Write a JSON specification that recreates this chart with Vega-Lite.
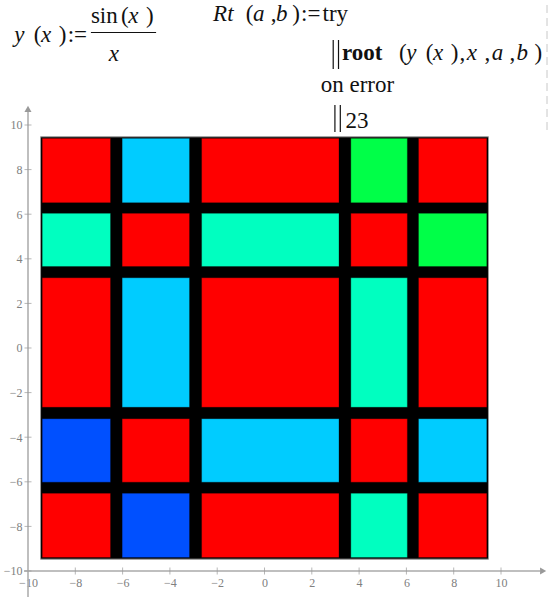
{
  "$schema": "https://vega.github.io/schema/vega-lite/v6.json",
  "width": 559,
  "height": 597,
  "autosize": {"type": "none"},
  "padding": 0,
  "background": "white",
  "config": {"view": {"stroke": null}},
  "datasets": {
    "frame": [{"x": -9.47, "x2": 9.47, "y": -9.47, "y2": 9.47}],
    "cells": [
      {"x": -9.40, "x2": -6.51, "y": 6.51, "y2": 9.40, "root": 23},
      {"x": -6.02, "x2": -3.17, "y": 6.51, "y2": 9.40, "root": -3.1416},
      {"x": -2.66, "x2": 3.15, "y": 6.51, "y2": 9.40, "root": 23},
      {"x": 3.65, "x2": 6.04, "y": 6.51, "y2": 9.40, "root": 6.2832},
      {"x": 6.51, "x2": 9.40, "y": 6.51, "y2": 9.40, "root": 23},
      {"x": -9.40, "x2": -6.51, "y": 3.65, "y2": 6.04, "root": 3.1416},
      {"x": -6.02, "x2": -3.17, "y": 3.65, "y2": 6.04, "root": 23},
      {"x": -2.66, "x2": 3.15, "y": 3.65, "y2": 6.04, "root": 3.1416},
      {"x": 3.65, "x2": 6.04, "y": 3.65, "y2": 6.04, "root": 23},
      {"x": 6.51, "x2": 9.40, "y": 3.65, "y2": 6.04, "root": 6.2832},
      {"x": -9.40, "x2": -6.51, "y": -2.66, "y2": 3.15, "root": 23},
      {"x": -6.02, "x2": -3.17, "y": -2.66, "y2": 3.15, "root": -3.1416},
      {"x": -2.66, "x2": 3.15, "y": -2.66, "y2": 3.15, "root": 23},
      {"x": 3.65, "x2": 6.04, "y": -2.66, "y2": 3.15, "root": 3.1416},
      {"x": 6.51, "x2": 9.40, "y": -2.66, "y2": 3.15, "root": 23},
      {"x": -9.40, "x2": -6.51, "y": -6.02, "y2": -3.17, "root": -6.2832},
      {"x": -6.02, "x2": -3.17, "y": -6.02, "y2": -3.17, "root": 23},
      {"x": -2.66, "x2": 3.15, "y": -6.02, "y2": -3.17, "root": -3.1416},
      {"x": 3.65, "x2": 6.04, "y": -6.02, "y2": -3.17, "root": 23},
      {"x": 6.51, "x2": 9.40, "y": -6.02, "y2": -3.17, "root": -3.1416},
      {"x": -9.40, "x2": -6.51, "y": -9.40, "y2": -6.51, "root": 23},
      {"x": -6.02, "x2": -3.17, "y": -9.40, "y2": -6.51, "root": -6.2832},
      {"x": -2.66, "x2": 3.15, "y": -9.40, "y2": -6.51, "root": 23},
      {"x": 3.65, "x2": 6.04, "y": -9.40, "y2": -6.51, "root": 3.1416},
      {"x": 6.51, "x2": 9.40, "y": -9.40, "y2": -6.51, "root": 23}
    ],
    "axisLines": [
      {"x": -10.17, "x2": 11.65, "y": -10, "y2": -10},
      {"x": -10, "x2": -10, "y": -11.17, "y2": 10.63}
    ],
    "axisTicks": [
      {"axis": "x", "x": -8, "y": -10}, {"axis": "x", "x": -6, "y": -10},
      {"axis": "x", "x": -4, "y": -10}, {"axis": "x", "x": -2, "y": -10},
      {"axis": "x", "x": 0, "y": -10}, {"axis": "x", "x": 2, "y": -10},
      {"axis": "x", "x": 4, "y": -10}, {"axis": "x", "x": 6, "y": -10},
      {"axis": "x", "x": 8, "y": -10}, {"axis": "x", "x": 10, "y": -10},
      {"axis": "y", "x": -10, "y": -10}, {"axis": "y", "x": -10, "y": -8},
      {"axis": "y", "x": -10, "y": -6}, {"axis": "y", "x": -10, "y": -4},
      {"axis": "y", "x": -10, "y": -2}, {"axis": "y", "x": -10, "y": 0},
      {"axis": "y", "x": -10, "y": 2}, {"axis": "y", "x": -10, "y": 4},
      {"axis": "y", "x": -10, "y": 6}, {"axis": "y", "x": -10, "y": 8},
      {"axis": "y", "x": -10, "y": 10}
    ],
    "arrowX": [{"x": 11.78, "y": -10}],
    "arrowY": [{"x": -10, "y": 10.72}],
    "formula": [
      {"t": "y", "x": -10.579, "y": 13.722, "s": "i"},
      {"t": "(", "x": -9.755, "y": 13.722, "s": "r"},
      {"t": "x", "x": -9.450, "y": 13.722, "s": "i"},
      {"t": ")", "x": -8.698, "y": 13.722, "s": "r"},
      {"t": ":=", "x": -8.321, "y": 13.722, "s": "r"},
      {"t": "sin", "x": -7.340, "y": 14.574, "s": "r"},
      {"t": "(", "x": -6.063, "y": 14.574, "s": "r"},
      {"t": "x", "x": -5.759, "y": 14.574, "s": "i"},
      {"t": ")", "x": -5.006, "y": 14.574, "s": "r"},
      {"t": "x", "x": -6.588, "y": 12.870, "s": "i"},
      {"t": "Rt", "x": -2.173, "y": 14.664, "s": "i"},
      {"t": "(", "x": -0.791, "y": 14.664, "s": "r"},
      {"t": "a", "x": -0.486, "y": 14.664, "s": "i"},
      {"t": ",", "x": 0.266, "y": 14.664, "s": "r"},
      {"t": "b", "x": 0.490, "y": 14.664, "s": "i"},
      {"t": ")", "x": 1.171, "y": 14.664, "s": "r"},
      {"t": ":=", "x": 1.548, "y": 14.664, "s": "r"},
      {"t": "try", "x": 2.452, "y": 14.664, "s": "r"},
      {"t": "root", "x": 3.277, "y": 12.915, "s": "b"},
      {"t": "(", "x": 5.691, "y": 12.915, "s": "r"},
      {"t": "y", "x": 5.991, "y": 12.915, "s": "i"},
      {"t": "(", "x": 6.820, "y": 12.915, "s": "r"},
      {"t": "x", "x": 7.121, "y": 12.915, "s": "i"},
      {"t": ")", "x": 7.873, "y": 12.915, "s": "r"},
      {"t": ",", "x": 8.250, "y": 12.915, "s": "r"},
      {"t": "x", "x": 8.554, "y": 12.915, "s": "i"},
      {"t": ",", "x": 9.307, "y": 12.915, "s": "r"},
      {"t": "a", "x": 9.607, "y": 12.915, "s": "i"},
      {"t": ",", "x": 10.359, "y": 12.915, "s": "r"},
      {"t": "b", "x": 10.660, "y": 12.915, "s": "i"},
      {"t": ")", "x": 11.412, "y": 12.915, "s": "r"},
      {"t": "on error", "x": 2.376, "y": 11.480, "s": "r"},
      {"t": "23", "x": 3.429, "y": 9.865, "s": "r"}
    ],
    "formulaLines": [
      {"x": -7.340, "x2": -4.584, "y": 14.148, "y2": 14.148},
      {"x": 2.905, "x2": 2.905, "y": 13.812, "y2": 12.511},
      {"x": 3.129, "x2": 3.129, "y": 13.812, "y2": 12.511},
      {"x": 2.977, "x2": 2.977, "y": 10.897, "y2": 9.686},
      {"x": 3.205, "x2": 3.205, "y": 10.897, "y2": 9.686}
    ],
    "regionEdge": [{"x": 11.945, "x2": 11.945, "y": 15.381, "y2": 9.776}]
  },
  "encoding": {
    "x": {
      "field": "x",
      "type": "quantitative",
      "scale": {"domain": [-11.184, 12.452], "nice": false, "zero": false},
      "axis": {
        "title": null,
        "orient": "bottom",
        "offset": -26,
        "values": [-10, -8, -6, -4, -2, 0, 2, 4, 6, 8, 10],
        "domain": false,
        "ticks": false,
        "tickSize": 0,
        "grid": false,
        "labelFont": "Liberation Serif",
        "labelFontSize": 12,
        "labelColor": "#808080",
        "labelPadding": 6,
        "labelOverlap": false,
        "labelFlush": false
      }
    },
    "y": {
      "field": "y",
      "type": "quantitative",
      "scale": {"domain": [-11.166, 15.605], "nice": false, "zero": false},
      "axis": {
        "title": null,
        "orient": "left",
        "offset": -28,
        "values": [-10, -8, -6, -4, -2, 0, 2, 4, 6, 8, 10],
        "domain": false,
        "ticks": false,
        "tickSize": 0,
        "grid": false,
        "labelFont": "Liberation Serif",
        "labelFontSize": 12,
        "labelColor": "#808080",
        "labelPadding": 6,
        "labelOverlap": false,
        "labelFlush": false
      }
    }
  },
  "layer": [
    {
      "data": {"name": "frame"},
      "mark": {"type": "rect", "fill": "#000000", "stroke": "#9a9a9a", "strokeWidth": 1},
      "encoding": {"x2": {"field": "x2"}, "y2": {"field": "y2"}}
    },
    {
      "data": {"name": "cells"},
      "mark": {"type": "rect", "stroke": "#000000", "strokeOpacity": 0.3, "strokeWidth": 1, "fillOpacity": 1},
      "encoding": {
        "x2": {"field": "x2"},
        "y2": {"field": "y2"},
        "fill": {
          "field": "root",
          "type": "ordinal",
          "scale": {
            "domain": [-6.2832, -3.1416, 3.1416, 6.2832, 23],
            "range": ["#0050ff", "#00ccff", "#00ffc0", "#00ff48", "#ff0000"]
          },
          "legend": null
        }
      }
    },
    {
      "data": {"name": "axisLines"},
      "mark": {"type": "rule", "color": "#aaaaaa", "strokeWidth": 1.5},
      "encoding": {"x2": {"field": "x2"}, "y2": {"field": "y2"}}
    },
    {
      "data": {"name": "axisTicks"},
      "transform": [{"filter": "datum.axis == 'x'"}],
      "mark": {"type": "tick", "orient": "vertical", "size": 7, "thickness": 1, "color": "#999999"}
    },
    {
      "data": {"name": "axisTicks"},
      "transform": [{"filter": "datum.axis == 'y'"}],
      "mark": {"type": "tick", "orient": "horizontal", "size": 7, "thickness": 1, "color": "#999999"}
    },
    {
      "data": {"name": "arrowX"},
      "mark": {"type": "point", "shape": "triangle-right", "filled": true, "size": 50, "color": "#999999", "opacity": 1}
    },
    {
      "data": {"name": "arrowY"},
      "mark": {"type": "point", "shape": "triangle-up", "filled": true, "size": 50, "color": "#999999", "opacity": 1}
    },
    {
      "data": {"name": "formula"},
      "transform": [{"filter": "datum.s == 'i'"}],
      "mark": {"type": "text", "align": "left", "baseline": "alphabetic", "font": "Liberation Serif", "fontSize": 23, "fontStyle": "italic", "color": "#111111"},
      "encoding": {"text": {"field": "t"}}
    },
    {
      "data": {"name": "formula"},
      "transform": [{"filter": "datum.s == 'r'"}],
      "mark": {"type": "text", "align": "left", "baseline": "alphabetic", "font": "Liberation Serif", "fontSize": 23, "color": "#111111"},
      "encoding": {"text": {"field": "t"}}
    },
    {
      "data": {"name": "formula"},
      "transform": [{"filter": "datum.s == 'b'"}],
      "mark": {"type": "text", "align": "left", "baseline": "alphabetic", "font": "Liberation Serif", "fontSize": 23, "fontWeight": "bold", "color": "#111111"},
      "encoding": {"text": {"field": "t"}}
    },
    {
      "data": {"name": "formulaLines"},
      "mark": {"type": "rule", "color": "#111111", "strokeWidth": 1.2},
      "encoding": {"x2": {"field": "x2"}, "y2": {"field": "y2"}}
    },
    {
      "data": {"name": "regionEdge"},
      "mark": {"type": "rule", "color": "#c8c8c8", "strokeWidth": 1, "strokeDash": [8, 5]},
      "encoding": {"x2": {"field": "x2"}, "y2": {"field": "y2"}}
    }
  ]
}
